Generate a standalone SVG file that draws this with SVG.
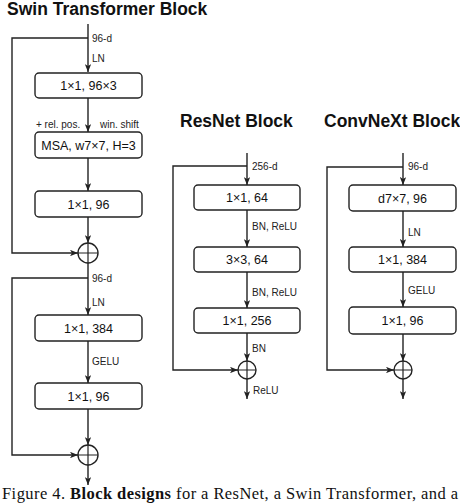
<svg xmlns="http://www.w3.org/2000/svg" width="460" height="503" viewBox="0 0 460 503">
<style>
.title{font-family:"Liberation Sans",Arial,sans-serif;font-weight:bold;font-size:17.5px;fill:#111}
.box rect{fill:#fff;stroke:#222;stroke-width:1.4}
.box text{font-family:"Liberation Sans",Arial,sans-serif;font-size:12.5px;fill:#111;text-anchor:middle}
.lbl{font-family:"Liberation Sans",Arial,sans-serif;font-size:10px;fill:#222}
.ln{fill:none;stroke:#222;stroke-width:1.4}
.sum circle{fill:#fff;stroke:#222;stroke-width:1.4}
.sum path{stroke:#222;stroke-width:1.2;fill:none}
.cap{font-family:"Liberation Serif","Times New Roman",serif;font-size:16.5px;fill:#111}
</style>
<defs>
<marker id="ah" viewBox="0 0 10 8" refX="10" refY="4" markerWidth="8" markerHeight="6.4" markerUnits="userSpaceOnUse" orient="auto">
<path d="M0,0 L10,4 L0,8 L2.5,4 z" fill="#222"/>
</marker>
</defs>

<text class="title" x="7" y="15">Swin Transformer Block</text>
<text class="title" x="180" y="127">ResNet Block</text>
<text class="title" x="324" y="127">ConvNeXt Block</text>

<g id="connectors">
<!-- Swin -->
<path class="ln" d="M88,24 V72" marker-end="url(#ah)"/>
<path class="ln" d="M88,38 H12 V253 H78" marker-end="url(#ah)"/>
<path class="ln" d="M88,98 V132" marker-end="url(#ah)"/>
<path class="ln" d="M88,158 V191" marker-end="url(#ah)"/>
<path class="ln" d="M88,217 V243" marker-end="url(#ah)"/>
<path class="ln" d="M88,263 V315" marker-end="url(#ah)"/>
<path class="ln" d="M88,278 H12 V455 H78" marker-end="url(#ah)"/>
<path class="ln" d="M88,341 V383" marker-end="url(#ah)"/>
<path class="ln" d="M88,409 V445" marker-end="url(#ah)"/>
<path class="ln" d="M88,465 V485" marker-end="url(#ah)"/>
<!-- ResNet -->
<path class="ln" d="M247,153 V185" marker-end="url(#ah)"/>
<path class="ln" d="M247,166 H173 V370 H238" marker-end="url(#ah)"/>
<path class="ln" d="M247,210 V247" marker-end="url(#ah)"/>
<path class="ln" d="M247,272 V308" marker-end="url(#ah)"/>
<path class="ln" d="M247,333 V361" marker-end="url(#ah)"/>
<path class="ln" d="M247,379 V399" marker-end="url(#ah)"/>
<!-- ConvNeXt -->
<path class="ln" d="M403,153 V185" marker-end="url(#ah)"/>
<path class="ln" d="M403,167 H327 V370 H394" marker-end="url(#ah)"/>
<path class="ln" d="M403,211 V247" marker-end="url(#ah)"/>
<path class="ln" d="M403,272 V307" marker-end="url(#ah)"/>
<path class="ln" d="M403,334 V361" marker-end="url(#ah)"/>
<path class="ln" d="M403,379 V399" marker-end="url(#ah)"/>

<text class="lbl" x="92" y="41.5">96-d</text>
<text class="lbl" x="92" y="61.5">LN</text>
<text class="lbl" x="36" y="128">+ rel. pos.</text>
<text class="lbl" x="100" y="128">win. shift</text>
<text class="lbl" x="92" y="281.5">96-d</text>
<text class="lbl" x="92" y="305.5">LN</text>
<text class="lbl" x="92" y="364.5">GELU</text>

<text class="lbl" x="252" y="170">256-d</text>
<text class="lbl" x="252" y="229.5">BN, ReLU</text>
<text class="lbl" x="252" y="295.5">BN, ReLU</text>
<text class="lbl" x="252" y="351.5">BN</text>
<text class="lbl" x="253" y="393.5">ReLU</text>

<text class="lbl" x="408" y="170">96-d</text>
<text class="lbl" x="408" y="235.5">LN</text>
<text class="lbl" x="408" y="293.5">GELU</text>
</g>

<!-- Swin nodes -->
<g id="swin-qkv" class="box"><rect x="35" y="73" width="107" height="25" rx="4"/><text x="88.5" y="90">1×1, 96×3</text></g>
<g id="swin-msa" class="box"><rect x="35" y="132" width="107" height="26" rx="4"/><text x="88.5" y="149.5">MSA, w7×7, H=3</text></g>
<g id="swin-proj" class="box"><rect x="35" y="191" width="107" height="26" rx="4"/><text x="88.5" y="208.5">1×1, 96</text></g>
<g id="swin-sum1" class="sum"><circle cx="88" cy="253" r="10"/><path d="M78,253 H98 M88,243 V263"/></g>
<g id="swin-fc1" class="box"><rect x="35" y="315" width="107" height="26" rx="4"/><text x="88.5" y="332.5">1×1, 384</text></g>
<g id="swin-fc2" class="box"><rect x="35" y="383" width="107" height="26" rx="4"/><text x="88.5" y="400.5">1×1, 96</text></g>
<g id="swin-sum2" class="sum"><circle cx="88" cy="455" r="10"/><path d="M78,455 H98 M88,445 V465"/></g>

<!-- ResNet nodes -->
<g id="res-c1" class="box"><rect x="194" y="185" width="106" height="25" rx="4"/><text x="247" y="202">1×1, 64</text></g>
<g id="res-c2" class="box"><rect x="194" y="247" width="106" height="25" rx="4"/><text x="247" y="264">3×3, 64</text></g>
<g id="res-c3" class="box"><rect x="194" y="308" width="106" height="25" rx="4"/><text x="247" y="325">1×1, 256</text></g>
<g id="res-sum" class="sum"><circle cx="247" cy="370" r="9"/><path d="M238,370 H256 M247,361 V379"/></g>

<!-- ConvNeXt nodes -->
<g id="cnx-dw" class="box"><rect x="349" y="185" width="107" height="26" rx="4"/><text x="402.5" y="202.5">d7×7, 96</text></g>
<g id="cnx-fc1" class="box"><rect x="349" y="247" width="107" height="25" rx="4"/><text x="402.5" y="264">1×1, 384</text></g>
<g id="cnx-fc2" class="box"><rect x="349" y="307" width="107" height="27" rx="4"/><text x="402.5" y="325">1×1, 96</text></g>
<g id="cnx-sum" class="sum"><circle cx="403" cy="370" r="9"/><path d="M394,370 H412 M403,361 V379"/></g>

<text class="cap" x="2" y="499" textLength="456" lengthAdjust="spacing">Figure 4. <tspan font-weight="bold">Block designs</tspan> for a ResNet, a Swin Transformer, and a</text>
</svg>
